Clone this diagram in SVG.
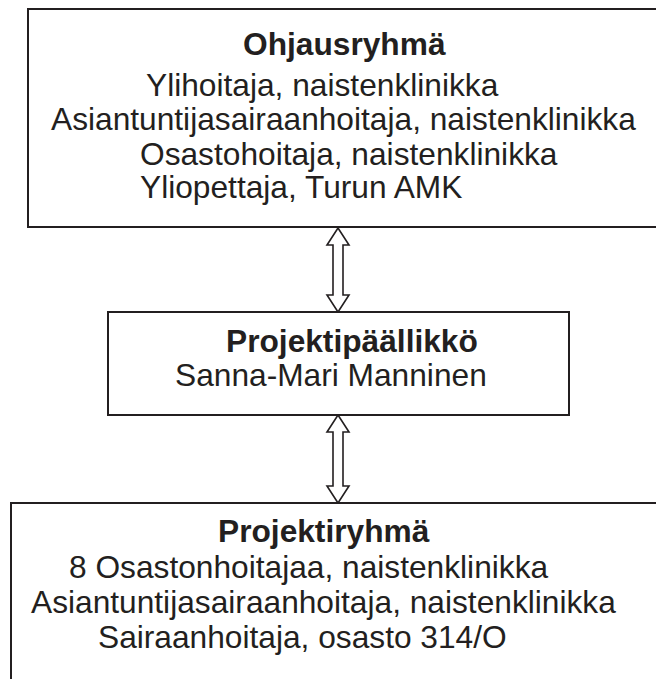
<svg xmlns="http://www.w3.org/2000/svg" width="656" height="679" viewBox="0 0 656 679">
<style>
.box{fill:#fff;stroke:#231f20;stroke-width:2}
.arrow{fill:#fff;stroke:#231f20;stroke-width:1.6;stroke-linejoin:miter}
text{font-family:"Liberation Sans",Arial,sans-serif;font-size:31.7px;fill:#231f20}
.b{font-weight:bold}
</style>
<rect width="656" height="679" fill="#fff"/>
<g id="connectors">
<polygon class="arrow" points="338,228 349,245 343,245 343,295 349,295 338,312 327,295 333,295 333,245 327,245"/>
<polygon class="arrow" points="338,415 349,432 343,432 343,486 349,486 338,503 327,486 333,486 333,432 327,432"/>
</g>
<g id="ohjausryhma">
<rect class="box" x="28" y="9" width="640" height="218"/>
<text class="b" x="243" y="55">Ohjausryhmä</text>
<text x="146" y="96">Ylihoitaja, naistenklinikka</text>
<text x="51" y="130">Asiantuntijasairaanhoitaja, naistenklinikka</text>
<text x="140" y="165">Osastohoitaja, naistenklinikka</text>
<text x="140" y="198">Yliopettaja, Turun AMK</text>
</g>
<g id="projektipaallikko">
<rect class="box" x="108" y="312" width="461" height="103"/>
<text class="b" x="226" y="352">Projektipäällikkö</text>
<text x="175" y="386">Sanna-Mari Manninen</text>
</g>
<g id="projektiryhma">
<rect class="box" x="11" y="503" width="660" height="200"/>
<text class="b" x="218" y="542">Projektiryhmä</text>
<text x="69" y="578">8 Osastonhoitajaa, naistenklinikka</text>
<text x="31" y="613">Asiantuntijasairaanhoitaja, naistenklinikka</text>
<text x="98" y="648">Sairaanhoitaja, osasto 314/O</text>
</g>
</svg>
